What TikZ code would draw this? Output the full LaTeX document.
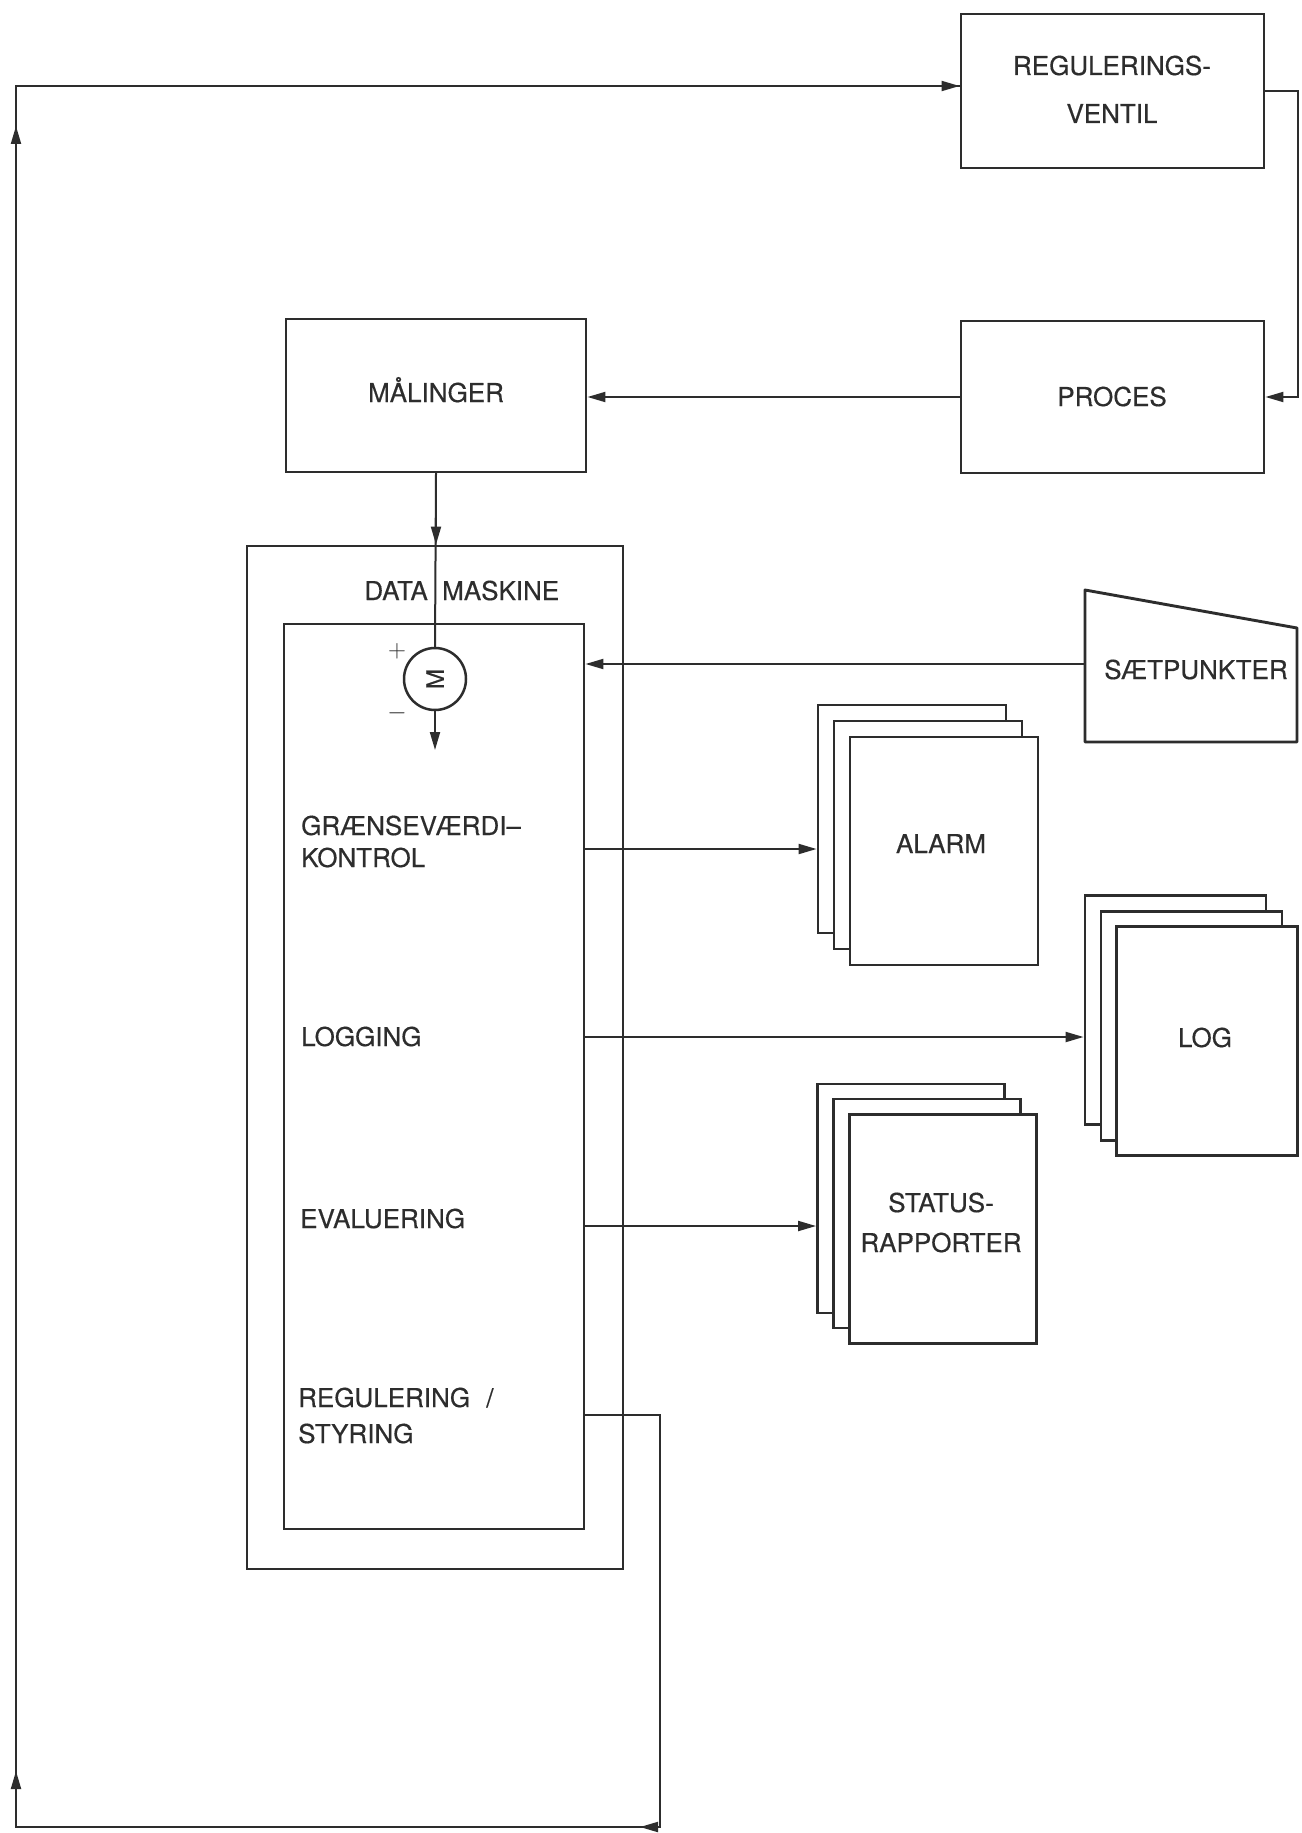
\documentclass[tikz,border=0pt]{standalone}
\usepackage[no-math]{fontspec}
\setmainfont{TeX Gyre Heros}
\newfontfamily\lblfont{TeX Gyre Heros}[FakeBold=0.4]
\usepackage{graphicx}
\usetikzlibrary{arrows.meta}
\definecolor{ink}{RGB}{45,45,45}
\tikzset{
  box/.style={draw=ink, line width=2.9pt, rectangle, inner sep=0pt},
  page/.style={draw=ink, line width=2.9pt, rectangle, inner sep=0pt, fill=white},
  conn/.style={draw=ink, line width=2.0pt},
  arr/.style={conn, -{Triangle[length=18pt,width=10pt]}},
  lbl/.style={text=ink, font=\lblfont\fontsize{26}{30}\selectfont, inner sep=0pt},
  sign/.style={text=ink, font=\fontsize{28}{28}\selectfont, inner sep=0pt},
}
\begin{document}
\begin{tikzpicture}[x=1pt,y=-1pt]
\useasboundingbox (0,0) rectangle (1301,1833);
\fill[white] (0,0) rectangle (1301,1833);

% main boxes
\node[box, minimum width=303pt, minimum height=154pt] (ventil) at (1112.5,91) {};
\node[lbl, anchor=base] (ventilT1) at (1112,75) {REGULERINGS-};
\node[lbl, anchor=base] (ventilT2) at (1112,123) {VENTIL};

\node[box, minimum width=303pt, minimum height=152pt] (proces) at (1112.5,397) {};
\node[lbl, anchor=base] (procesT) at (1112,406) {PROCES};

\node[box, minimum width=300pt, minimum height=153pt] (malinger) at (436,395.5) {};
\node[lbl, anchor=base] (malingerT) at (436,402) {MÅLINGER};

\node[box, minimum width=376pt, minimum height=1023pt] (outer) at (435,1057.5) {};
\node[box, minimum width=300pt, minimum height=905pt] (inner) at (434,1076.5) {};
\node[lbl, anchor=base east] (dataL) at (428,600) {DATA};
\node[lbl, anchor=base west] (dataR) at (442,600) {MASKINE};

% motor symbol
\node[circle, draw=ink, line width=2.5pt, minimum size=62pt, inner sep=0pt, text=ink,
      font=\lblfont\fontsize{24}{24}\selectfont] (motor) at (435,679) {\rotatebox{90}{M}};
\node[sign] (plus) at (397,651) {$+$};
\node[sign] (minus) at (397,713) {$-$};
\coordinate (motorOut) at (435,750);

% labels inside computer
\node[lbl, anchor=base west] (graensT1) at (301,835) {GRÆNSEVÆRDI–};
\node[lbl, anchor=base west] (graensT2) at (301,867) {KONTROL};
\node[lbl, anchor=base west] (loggingT) at (301,1046) {LOGGING};
\node[lbl, anchor=base west] (evalT) at (300,1228) {EVALUERING};
\node[lbl, anchor=base west] (regT1) at (298,1407) {REGULERING\hspace{9pt} /};
\node[lbl, anchor=base west] (regT2) at (298,1443) {STYRING};

% setpoints trapezoid
\draw[draw=ink, line width=2.9pt, line join=round] (1085,590) -- (1297,628) -- (1297,742) -- (1085,742) -- cycle;
\node[lbl, anchor=base] (saet) at (1196,679) {SÆTPUNKTER};
\coordinate (saetW) at (1085,664);

% ALARM stack
\node[page, minimum width=188pt, minimum height=228pt] (alarmA) at (912,819) {};
\node[page, minimum width=188pt, minimum height=228pt] (alarmB) at (928,835) {};
\node[page, minimum width=188pt, minimum height=228pt] (alarmC) at (944,851) {};
\node[lbl, anchor=base] (alarmT) at (941,853) {ALARM};

% LOG stack
\node[page, minimum width=181pt, minimum height=229pt] (logA) at (1175.5,1010) {};
\node[page, minimum width=181pt, minimum height=229pt] (logB) at (1191.5,1026) {};
\node[page, minimum width=181pt, minimum height=229pt] (logC) at (1207,1041) {};
\node[lbl, anchor=base] (logT) at (1205,1047) {LOG};

% STATUS stack
\node[page, minimum width=187pt, minimum height=229pt] (statA) at (911,1198.5) {};
\node[page, minimum width=187pt, minimum height=229pt] (statB) at (927,1213.5) {};
\node[page, minimum width=187pt, minimum height=229pt] (statC) at (943,1229) {};
\node[lbl, anchor=base] (statT1) at (941,1212) {STATUS-};
\node[lbl, anchor=base] (statT2) at (941,1252) {RAPPORTER};

% connectors
\draw[arr] (ventil.east) -- (1298,91) -- (1298,397) -- (proces.east);
\draw[arr] (proces.west) -- (proces.west -| malinger.east);
\draw[conn] (malinger.south) -- (motor.north);
\draw[arr] (malinger.south) -- (malinger.south |- outer.north);
\draw[arr] (motor.south) -- (motorOut);
\draw[arr] (saetW) -- (saetW -| inner.east);

\coordinate (yAlarm) at (0,849);
\coordinate (yLog) at (0,1037);
\coordinate (yStat) at (0,1226);
\draw[arr] (inner.east |- yAlarm) -- (alarmA.west |- yAlarm);
\draw[arr] (inner.east |- yLog) -- (logA.west |- yLog);
\draw[arr] (inner.east |- yStat) -- (statA.west |- yStat);

% feedback loop
\coordinate (rA) at (660,1415);
\coordinate (rB) at (660,1827);
\coordinate (rC) at (16,1827);
\coordinate (rD) at (16,86);
\coordinate (aB) at (640,1827);
\coordinate (aC) at (16,1771);
\coordinate (aD) at (16,126);
\draw[conn, line join=miter] (inner.east |- rA) -- (rA) -- (rB) -- (rC) -- (rD) -- (ventil.west |- rD);
\draw[arr] (rB) -- (aB);
\draw[arr] (rC) -- (aC);
\draw[arr] (rC) -- (aD);
\draw[arr] (rD) -- (ventil.west |- rD);
\end{tikzpicture}
\end{document}
